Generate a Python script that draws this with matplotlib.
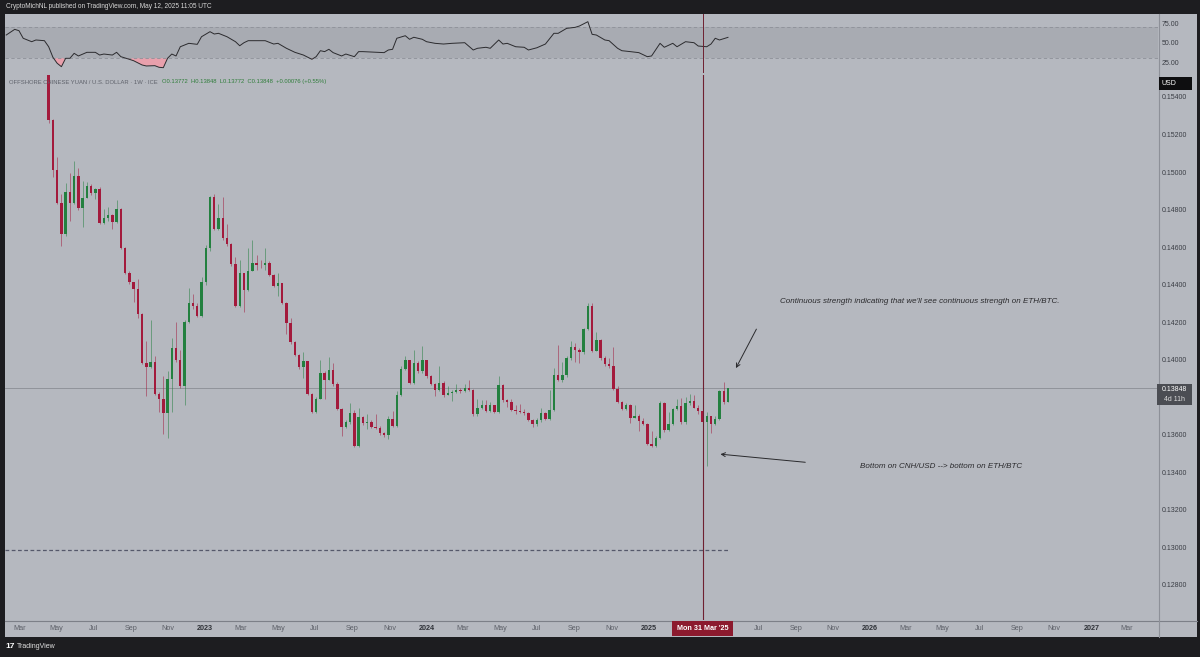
import numpy as np
import pandas as pd
import matplotlib
matplotlib.use("Agg")
import matplotlib.pyplot as plt
import matplotlib.dates as mdates
from matplotlib.patches import Rectangle
from matplotlib.transforms import blended_transform_factory

plt.rcParams["font.family"] = ["Liberation Sans", "DejaVu Sans"]

# ---- data (weekly CNH/USD candles) ----
first_week = "2022-04-18"
first_open = 0.15674
closes = [
    0.15277, 0.15012, 0.14837, 0.14668, 0.14893, 0.14837, 0.14981, 0.14808, 0.14863, 0.14923,
    0.14890, 0.14911, 0.14730, 0.14755, 0.14770, 0.14734, 0.14805, 0.14593, 0.14463, 0.14412,
    0.14377, 0.14244, 0.13980, 0.13963, 0.13988, 0.13818, 0.13788, 0.13717, 0.13899, 0.14062,
    0.13996, 0.13858, 0.14203, 0.14301, 0.14288, 0.14235, 0.14412, 0.14595, 0.14866,
    0.14699, 0.14757, 0.14651, 0.14615, 0.14509, 0.14286, 0.14460, 0.14371, 0.14474, 0.14513,
    0.14504, 0.14502, 0.14513, 0.14451, 0.14393, 0.14407, 0.14301, 0.14198, 0.14094, 0.14027,
    0.13959, 0.13991, 0.13818, 0.13720, 0.13793, 0.13929, 0.13894, 0.13943, 0.13873, 0.13735,
    0.13643, 0.13667, 0.13714, 0.13540, 0.13696, 0.13664, 0.13670, 0.13643, 0.13637, 0.13611,
    0.13597, 0.13685, 0.13646, 0.13814, 0.13951, 0.13996, 0.13876, 0.13982, 0.13938, 0.13996,
    0.13915, 0.13871, 0.13841, 0.13876, 0.13814, 0.13823, 0.13830, 0.13841, 0.13832, 0.13850,
    0.13841, 0.13708, 0.13740, 0.13761, 0.13726, 0.13756, 0.13720, 0.13867, 0.13784, 0.13776,
    0.13731, 0.13728, 0.13722, 0.13717, 0.13678, 0.13660, 0.13678, 0.13714, 0.13685, 0.13731,
    0.13920,
    0.13894, 0.13920, 0.14009, 0.14067, 0.14053, 0.14039, 0.14163, 0.14286, 0.14049, 0.14106,
    0.14009, 0.13979, 0.13968, 0.13845, 0.13774, 0.13738, 0.13761, 0.13691, 0.13700, 0.13673,
    0.13660, 0.13549, 0.13540, 0.13585, 0.13770, 0.13625, 0.13655, 0.13735, 0.13752, 0.13667,
    0.13767, 0.13779, 0.13744, 0.13726, 0.13667, 0.13699, 0.13655, 0.13682, 0.13832, 0.13772,
    0.13848,
]
highs = [
    0.15680, 0.15280, 0.15078, 0.14884, 0.14943, 0.14996, 0.15061, 0.15022, 0.14953, 0.14945,
    0.14934, 0.14915, 0.14920, 0.14805, 0.14813, 0.14775, 0.14849, 0.14808, 0.14601, 0.14470,
    0.14415, 0.14430, 0.14250, 0.14097, 0.14212, 0.14018, 0.13830, 0.13911, 0.13942, 0.14118,
    0.14200, 0.14050, 0.14210, 0.14380, 0.14350, 0.14300, 0.14442, 0.14613, 0.14870,
    0.14881, 0.14831, 0.14866, 0.14725, 0.14620, 0.14548, 0.14531, 0.14460, 0.14593, 0.14640,
    0.14560, 0.14530, 0.14593, 0.14525, 0.14455, 0.14460, 0.14410, 0.14310, 0.14220, 0.14100,
    0.14030, 0.14040, 0.13995, 0.13825, 0.13800, 0.14000, 0.13940, 0.14012, 0.13980, 0.13880,
    0.13740, 0.13680, 0.13770, 0.13730, 0.13740, 0.13700, 0.13710, 0.13680, 0.13710, 0.13645,
    0.13615, 0.13700, 0.13726, 0.13832, 0.13965, 0.14018, 0.14000, 0.14053, 0.13995, 0.14074,
    0.14000, 0.13920, 0.13875, 0.13965, 0.13885, 0.13860, 0.13840, 0.13870, 0.13850, 0.13870,
    0.13890, 0.13845, 0.13790, 0.13785, 0.13785, 0.13775, 0.13760, 0.13911, 0.13870, 0.13790,
    0.13790, 0.13760, 0.13765, 0.13735, 0.13720, 0.13685, 0.13688, 0.13740, 0.13720, 0.13841,
    0.13956,
    0.14080, 0.13986, 0.14020, 0.14097, 0.14090, 0.14060, 0.14170, 0.14304, 0.14302, 0.14145,
    0.14110, 0.14020, 0.14010, 0.14067, 0.13860, 0.13780, 0.13770, 0.13765, 0.13760, 0.13710,
    0.13690, 0.13665, 0.13620, 0.13595, 0.13780, 0.13772, 0.13720, 0.13745, 0.13790, 0.13795,
    0.13800, 0.13815, 0.13810, 0.13760, 0.13730, 0.13720, 0.13700, 0.13700, 0.13840, 0.13880,
    0.13848,
]
lows = [
    0.15260, 0.14973, 0.14830, 0.14606, 0.14660, 0.14737, 0.14830, 0.14800, 0.14707, 0.14860,
    0.14880, 0.14854, 0.14725, 0.14722, 0.14740, 0.14699, 0.14730, 0.14590, 0.14455, 0.14405,
    0.14309, 0.14221, 0.13975, 0.13805, 0.13955, 0.13810, 0.13720, 0.13606, 0.13581, 0.13720,
    0.13990, 0.13850, 0.13761, 0.14195, 0.14270, 0.14225, 0.14230, 0.14400, 0.14580,
    0.14690, 0.14690, 0.14640, 0.14605, 0.14500, 0.14280, 0.14280, 0.14256, 0.14365, 0.14470,
    0.14480, 0.14490, 0.14480, 0.14445, 0.14385, 0.14340, 0.14295, 0.14138, 0.14085, 0.14020,
    0.13950, 0.13903, 0.13810, 0.13715, 0.13715, 0.13790, 0.13788, 0.13890, 0.13860, 0.13730,
    0.13593, 0.13635, 0.13660, 0.13535, 0.13535, 0.13650, 0.13630, 0.13635, 0.13630, 0.13600,
    0.13590, 0.13580, 0.13640, 0.13640, 0.13805, 0.13945, 0.13870, 0.13870, 0.13930, 0.13930,
    0.13905, 0.13865, 0.13805, 0.13835, 0.13800, 0.13810, 0.13780, 0.13825, 0.13825, 0.13828,
    0.13835, 0.13700, 0.13700, 0.13735, 0.13720, 0.13720, 0.13715, 0.13715, 0.13775, 0.13750,
    0.13725, 0.13710, 0.13715, 0.13705, 0.13675, 0.13640, 0.13645, 0.13670, 0.13680, 0.13680,
    0.13725,
    0.13885, 0.13880, 0.13910, 0.14000, 0.13990, 0.13982, 0.14030, 0.14160, 0.14040, 0.14045,
    0.14000, 0.13965, 0.13955, 0.13840, 0.13770, 0.13730, 0.13730, 0.13664, 0.13690, 0.13620,
    0.13650, 0.13545, 0.13535, 0.13535, 0.13580, 0.13615, 0.13620, 0.13650, 0.13730, 0.13660,
    0.13660, 0.13760, 0.13740, 0.13710, 0.13660, 0.13434, 0.13607, 0.13650, 0.13680, 0.13765,
    0.13772,
]

# RSI(14) line, read at weekly points (weeks counted from first_week)
rsi_weeks = [-10, -8, -7, -6, -4, -3, -1, 0, 1, 2, 3, 4, 5, 6, 7, 9, 11, 12, 13, 15,
             16, 17, 19, 20, 22, 23, 25, 26, 27, 28, 29, 30, 31, 33, 35, 36, 38, 39, 40, 42,
             44, 45, 46, 47, 51, 53, 54, 56, 58, 60, 62, 63, 64, 65, 66, 67, 69, 70, 72, 73,
             74, 79, 80, 81, 82, 84, 85, 86, 88, 89, 91, 93, 95, 98, 100, 101, 103, 104, 106, 107,
             108, 110, 112, 113, 115, 117, 119, 120, 122, 124, 125, 127, 128, 129, 131, 132, 134, 135, 137, 139,
             141, 142, 144, 145, 147, 148, 150, 152, 153, 155, 156, 157, 158, 160]
rsi_vals = [59.9, 67.2, 65.5, 55.7, 51.3, 53.5, 52.6, 44.8, 31.2, 23.5,
            19.1, 29.9, 29.9, 36.3, 32.9, 37.6, 37.6, 34.1, 35.4, 34.1,
            37.6, 32.0, 28.6, 26.8, 21.3, 20.0, 20.4, 18.3, 17.8, 29.9,
            35.4, 32.9, 44.8, 49.2, 47.9, 57.7, 64.2, 61.2, 62.1, 57.7,
            51.3, 46.1, 50.0, 52.6, 52.6, 48.3, 49.2, 42.8, 37.6, 34.1,
            28.6, 32.0, 39.7, 38.5, 41.5, 37.2, 32.9, 35.4, 32.0, 38.5,
            38.5, 37.2, 40.6, 41.5, 55.7, 59.0, 54.4, 57.0, 54.4, 51.3,
            49.2, 48.3, 49.2, 50.0, 40.6, 42.8, 44.1, 42.8, 53.5, 48.3,
            49.2, 44.8, 44.1, 40.6, 43.5, 48.3, 62.1, 62.1, 68.5, 69.8,
            71.5, 77.1, 60.8, 59.9, 53.5, 52.6, 42.8, 39.7, 38.5, 37.2,
            32.0, 32.9, 49.2, 44.1, 49.2, 44.8, 51.3, 50.0, 45.7, 44.8,
            48.3, 55.7, 53.5, 56.9]

last_price = 0.13848
support_level = 0.12985
marker_day = "2025-03-31"

price_ticks = [0.154, 0.152, 0.150, 0.148, 0.146, 0.144, 0.142, 0.140, 0.138,
               0.136, 0.134, 0.132, 0.130, 0.128]
time_ticks = ["2022-03-01", "2022-05-01", "2022-07-01", "2022-09-01", "2022-11-01",
              "2023-01-01", "2023-03-01", "2023-05-01", "2023-07-01", "2023-09-01",
              "2023-11-01", "2024-01-01", "2024-03-01", "2024-05-01", "2024-07-01",
              "2024-09-01", "2024-11-01", "2025-01-01", "2025-07-01", "2025-09-01",
              "2025-11-01", "2026-01-01", "2026-03-01", "2026-05-01", "2026-07-01",
              "2026-09-01", "2026-11-01", "2027-01-01", "2027-03-01"]
time_labels = ["Mar", "May", "Jul", "Sep", "Nov", "2023", "Mar", "May", "Jul", "Sep",
               "Nov", "2024", "Mar", "May", "Jul", "Sep", "Nov", "2025", "Jul", "Sep",
               "Nov", "2026", "Mar", "May", "Jul", "Sep", "Nov", "2027", "Mar"]

# ---- colours ----
BG = "#b5b8bf"
BAND = "#a8abb2"
DARK = "#1d1d20"
UP = "#23803f"
DOWN = "#a31a3c"
MARK = "#6e2030"

W, H = 1200, 657
def fx(x): return x / W
def fy(y): return 1 - y / H

dates = pd.date_range(first_week, periods=len(closes), freq="7D")
xd = mdates.date2num(dates)
c = np.array(closes)
o = np.array([first_open] + closes[:-1])
h = np.maximum(np.array(highs), np.maximum(o, c))
l = np.minimum(np.array(lows), np.minimum(o, c))
up = c >= o

fig = plt.figure(figsize=(12, 6.57), dpi=100, facecolor=DARK)
fig.add_artist(Rectangle((fx(5), fy(637)), 1192 / W, 623 / H, transform=fig.transFigure,
                         facecolor=BG, edgecolor="none", zorder=-5))

xlim = mdates.date2num(pd.to_datetime(["2022-02-05", "2027-04-21"]))

ax = fig.add_axes([fx(5), fy(620), 1153 / W, 545 / H])
ax_r = fig.add_axes([fx(5), fy(73), 1153 / W, 59 / H])
for a in (ax, ax_r):
    a.set_facecolor(BG)
    a.set_xlim(*xlim)
    for s in a.spines.values():
        s.set_visible(False)
    a.set_xticks([])
    a.yaxis.tick_right()
    a.tick_params(axis="y", length=0, pad=2.5, labelsize=5, labelcolor="#3a3d44")

# candles
cols = np.where(up, UP, DOWN)
ax.vlines(xd, l, h, colors=cols, lw=0.6, alpha=0.6, zorder=2)
body = np.maximum(np.abs(c - o), 0.000035)
ax.bar(xd, body, bottom=np.minimum(o, c), width=4.0, color=cols, lw=0, zorder=3)

ax.set_ylim(0.12613, 0.15517)
ax.set_yticks(price_ticks)
ax.set_yticklabels([f"{p:.5f}" for p in price_ticks])

ax.axhline(last_price, color="#8b8e95", lw=0.6, zorder=1)
ax.hlines(support_level, xlim[0], xd[-1] + 3, colors="#55586a", lw=0.9,
          linestyles=(0, (3, 2)), zorder=1)
mday = mdates.date2num(pd.Timestamp(marker_day))
ax.axvline(mday, color=MARK, lw=0.8, zorder=4)

# RSI pane
rx = mdates.date2num(pd.Timestamp(first_week) + pd.to_timedelta(np.array(rsi_weeks) * 7, unit="D"))
rv = np.array(rsi_vals)
ax_r.set_ylim(10.95, 87.0)
ax_r.axhspan(30, 70, color=BAND, lw=0, zorder=0)
ax_r.axhline(70, color="#8d9098", lw=0.6, ls=(0, (4, 3)))
ax_r.axhline(30, color="#8d9098", lw=0.6, ls=(0, (4, 3)))
ax_r.fill_between(rx, rv, 30, where=rv < 30, interpolate=True, color="#e8a0ac", lw=0, zorder=1)
ax_r.plot(rx, rv, color="#2b2b2e", lw=0.7, zorder=3)
ax_r.axvline(mday, color=MARK, lw=0.7, zorder=4)
ax_r.set_yticks([75, 50, 25])
ax_r.set_yticklabels(["75.00", "50.00", "25.00"])

# separators
fig.add_artist(plt.Line2D([fx(5), fx(1197)], [fy(620.5)] * 2, color="#7d8088", lw=0.8))
fig.add_artist(plt.Line2D([fx(1158.5)] * 2, [fy(14), fy(637)], color="#8d9098", lw=0.8))

# time axis labels
tt = blended_transform_factory(ax.transData, fig.transFigure)
for d, lab in zip(time_ticks, time_labels):
    yr = lab.isdigit()
    ax.text(mdates.date2num(pd.Timestamp(d)), fy(628.5), lab, transform=tt, ha="center",
            va="center", fontsize=5.2, clip_on=False,
            color="#2f3238" if yr else "#5d6068", fontweight="bold" if yr else "normal")
fig.add_artist(Rectangle((fx(672), fy(636)), 61 / W, 15 / H, transform=fig.transFigure,
                         facecolor="#8c1a2e", edgecolor="none", zorder=5))
fig.text(fx(702.5), fy(628.5), "Mon 31 Mar '25", ha="center", va="center",
         fontsize=5.2, color="white", fontweight="bold", zorder=6)

# price boxes on right axis
fig.add_artist(Rectangle((fx(1159), fy(90)), 33 / W, 13 / H, transform=fig.transFigure,
                         facecolor="#0e0e10", edgecolor="none", zorder=5))
fig.text(fx(1162), fy(83.5), "USD", color="white", fontsize=5, va="center", zorder=6)
fig.add_artist(Rectangle((fx(1157), fy(405)), 35 / W, 21 / H, transform=fig.transFigure,
                         facecolor="#4b4d53", edgecolor="none", zorder=5))
fig.text(fx(1174), fy(389.5), f"{last_price:.5f}", color="white", fontsize=5,
         ha="center", va="center", zorder=6)
fig.text(fx(1174), fy(399.5), "4d 11h", color="#dcdcdc", fontsize=5,
         ha="center", va="center", zorder=6)

# header / legend texts
fig.text(fx(6), fy(7), "CryptoMichNL published on TradingView.com, May 12, 2025 11:05 UTC",
         color="#d8d8d8", fontsize=4.7, va="center")
fig.text(fx(9), fy(82), "OFFSHORE CHINESE YUAN / U.S. DOLLAR · 1W · ICE",
         color="#5f626b", fontsize=4.2, va="center")
fig.text(fx(162), fy(82), "O0.13772  H0.13848  L0.13772  C0.13848  +0.00076 (+0.55%)",
         color="#2f7d3a", fontsize=4.2, va="center")
fig.text(fx(5), fy(647), "17", color="white", fontsize=6, fontweight="bold", va="center")
fig.text(fx(17), fy(647), "TradingView", color="#e0e0e0", fontsize=5, va="center")

# annotations
ts = lambda s: mdates.date2num(pd.Timestamp(s))
ax.text(ts("2026-03-24"), 0.14308,
        "Continuous strength indicating that we'll see continuous strength on ETH/BTC.",
        ha="center", va="center", fontsize=5.8, style="italic", color="#2a2a2d")
ax.annotate("", xy=(ts("2025-05-23"), 0.13942), xytext=(ts("2025-06-30"), 0.14176),
            arrowprops=dict(arrowstyle="->", color="#2a2a2d", lw=0.7, mutation_scale=7))
ax.text(ts("2026-04-29"), 0.13429, "Bottom on CNH/USD --> bottom on ETH/BTC",
        ha="center", va="center", fontsize=5.8, style="italic", color="#2a2a2d")
ax.annotate("", xy=(ts("2025-04-25"), 0.13498), xytext=(ts("2025-09-21"), 0.13452),
            arrowprops=dict(arrowstyle="->", color="#2a2a2d", lw=0.7, mutation_scale=7))

fig.savefig("out.png", dpi=100, facecolor=DARK)
